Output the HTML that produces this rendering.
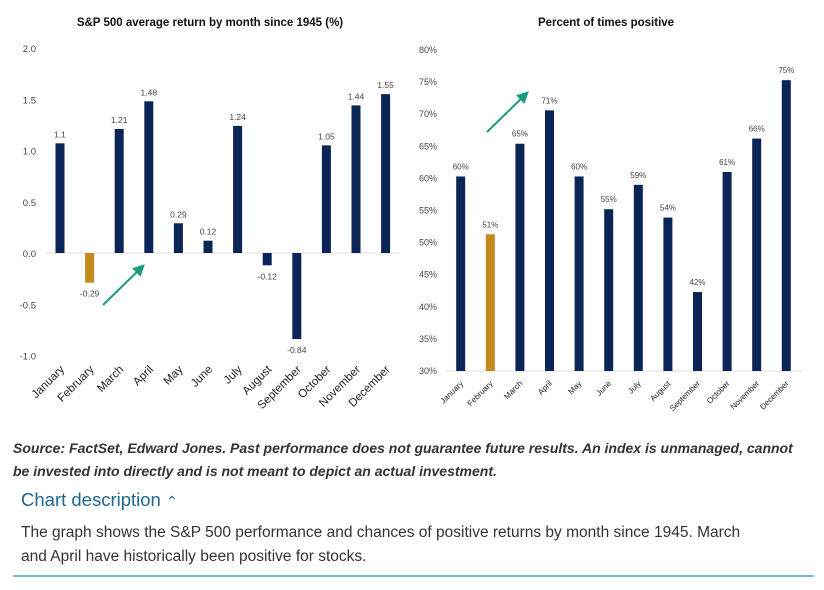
<!DOCTYPE html>
<html><head><meta charset="utf-8"><style>
body{margin:0;width:824px;height:590px;background:#fff;font-family:"Liberation Sans",sans-serif;overflow:hidden;position:relative}
svg text{font-family:"Liberation Sans",sans-serif}
.src{position:absolute;left:13px;top:437px;width:790px;font-size:14px;font-style:italic;font-weight:bold;color:#333;line-height:23px}
.desc-h{position:absolute;left:21px;top:489px;font-size:18.5px;color:#1f6591}
.desc{position:absolute;left:21px;top:521px;width:735px;font-size:15.5px;color:#333;line-height:23.5px}
.rule{position:absolute;left:13px;top:575px;width:801px;height:2px;background:#7fb6d3}
</style></head><body>
<svg id="c" width="824" height="435" style="position:absolute;left:0;top:0"></svg>
<div class="src">Source: FactSet, Edward Jones. Past performance does not guarantee future results. An index is unmanaged, cannot be invested into directly and is not meant to depict an actual investment.</div>
<div class="desc-h">Chart description <span style="font-size:14px">&#8963;</span></div>
<div class="desc">The graph shows the S&amp;P 500 performance and chances of positive returns by month since 1945. March and April have historically been positive for stocks.</div>
<div class="rule"></div>
<script>
const months=["January","February","March","April","May","June","July","August","September","October","November","December"];
const avgReturn=[1.07,-0.29,1.21,1.48,0.29,0.12,1.24,-0.12,-0.84,1.05,1.44,1.55];
const avgLabels=["1.1","-0.29","1.21","1.48","0.29","0.12","1.24","-0.12","-0.84","1.05","1.44","1.55"];
const pctPositive=[60.3,51.3,65.4,70.6,60.3,55.2,59,53.9,42.3,61,66.2,75.3];
const pctLabels=["60%","51%","65%","71%","60%","55%","59%","54%","42%","61%","66%","75%"];
const leftTicks=[2.0,1.5,1.0,0.5,0.0,-0.5,-1.0];
const rightTicks=[80,75,70,65,60,55,50,45,40,35,30];
const svg=document.getElementById('c');const NS='http://www.w3.org/2000/svg';
function mk(t,a,p){const e=document.createElementNS(NS,t);for(const k in a)e.setAttribute(k,a[k]);(p||svg).appendChild(e);return e;}
const NAVY='#0c2557',GOLD='#c48a1e';
const ly=v=>253-v*102.5, lx=i=>60+i*29.6;
let t=mk('text',{x:210,y:26,'text-anchor':'middle','font-size':11.5,'font-weight':'bold',fill:'#111'});t.textContent='S&P 500 average return by month since 1945 (%)';

leftTicks.forEach(v=>{const e=mk('text',{x:36,y:ly(v)+4,'text-anchor':'end','font-size':9.5,fill:'#444'});e.textContent=v.toFixed(1);
});
let bl=mk('line',{x1:45,x2:400,y1:ly(0),y2:ly(0),stroke:'#ddd'});

avgReturn.forEach((v,i)=>{const y0=ly(Math.max(v,0)),h=Math.abs(ly(v)-ly(0));
const r=mk('rect',{x:lx(i)-4.5,y:y0,width:9,height:h,fill:i==1?GOLD:NAVY});

const l=mk('text',{x:lx(i),y:v>=0?ly(v)-6:ly(v)+14,'text-anchor':'middle','font-size':8.5,fill:'#444'});l.textContent=avgLabels[i];

const m=mk('text',{x:lx(i)+5,y:370,'text-anchor':'end','font-size':11.5,fill:'#222',transform:`rotate(-45 ${lx(i)+5} 370)`});m.textContent=months[i];
});
const ry=v=>371-(v-30)*6.42, rx=i=>460.7+i*29.6;
t=mk('text',{x:606,y:26,'text-anchor':'middle','font-size':11.5,'font-weight':'bold',fill:'#111'});t.textContent='Percent of times positive';

rightTicks.forEach(v=>{const e=mk('text',{x:437,y:ry(v)+3,'text-anchor':'end','font-size':9,fill:'#444'});e.textContent=v+'%';
});
bl=mk('line',{x1:445,x2:802,y1:ry(30),y2:ry(30),stroke:'#ddd'});

pctPositive.forEach((v,i)=>{const r=mk('rect',{x:rx(i)-4.5,y:ry(v),width:9,height:ry(30)-ry(v),fill:i==1?GOLD:NAVY});

const l=mk('text',{x:rx(i),y:ry(v)-7,'text-anchor':'middle','font-size':8,fill:'#444'});l.textContent=pctLabels[i];

const m=mk('text',{x:rx(i)+3,y:384,'text-anchor':'end','font-size':8,fill:'#222',transform:`rotate(-45 ${rx(i)+3} 384)`});m.textContent=months[i];
});
mk('defs',{}).innerHTML='<marker id="ah" markerWidth="6" markerHeight="6" refX="4" refY="3" orient="auto"><path d="M0,0 L6,3 L0,6 z" fill="#1a9a80"/></marker>';
let a=mk('line',{x1:103,y1:305,x2:142,y2:267,stroke:'#1a9a80','stroke-width':2,'marker-end':'url(#ah)'});

a=mk('line',{x1:487,y1:132,x2:526,y2:94,stroke:'#1a9a80','stroke-width':2,'marker-end':'url(#ah)'});

</script>
</body></html>
